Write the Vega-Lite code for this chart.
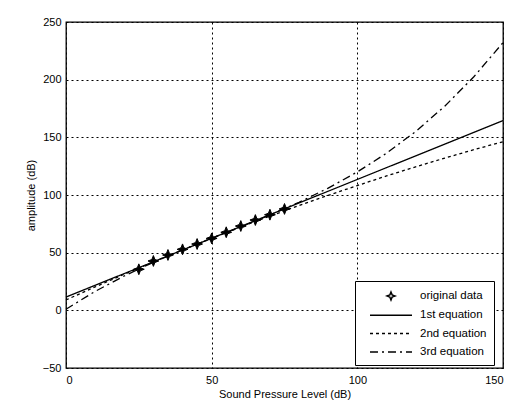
{
  "$schema": "https://vega.github.io/schema/vega-lite/v6.json",
  "width": 437,
  "height": 346,
  "autosize": "none",
  "padding": {"left": 66, "top": 22, "right": 27, "bottom": 35},
  "background": "white",
  "config": {
    "font": "Liberation Sans",
    "view": {"stroke": "black", "strokeWidth": 1.3},
    "axis": {
      "grid": true,
      "gridColor": "black",
      "gridDash": [2, 3],
      "gridOpacity": 1,
      "gridWidth": 1,
      "domain": false,
      "ticks": false,
      "labelColor": "black",
      "labelFontSize": 11,
      "titleColor": "black",
      "titleFontSize": 11,
      "titleFontWeight": "normal"
    },
    "legend": {
      "labelFontSize": 11.5,
      "labelColor": "black",
      "strokeColor": "black",
      "fillColor": "white",
      "padding": 7,
      "rowPadding": 4.3,
      "labelOffset": 21,
      "symbolSize": 196,
      "symbolOffset": 21
    }
  },
  "datasets": {
    "pts": [
      {"spl": 25, "amp": 35.6, "series": "original data"},
      {"spl": 30, "amp": 42.8, "series": "original data"},
      {"spl": 35, "amp": 48.0, "series": "original data"},
      {"spl": 40, "amp": 52.9, "series": "original data"},
      {"spl": 45, "amp": 57.5, "series": "original data"},
      {"spl": 50, "amp": 62.4, "series": "original data"},
      {"spl": 55, "amp": 67.7, "series": "original data"},
      {"spl": 60, "amp": 73.1, "series": "original data"},
      {"spl": 65, "amp": 78.3, "series": "original data"},
      {"spl": 70, "amp": 82.9, "series": "original data"},
      {"spl": 75, "amp": 87.9, "series": "original data"}
    ],
    "fits": [
      {"spl": 0, "amp": 11.5, "series": "1st equation"},
      {"spl": 10, "amp": 21.7, "series": "1st equation"},
      {"spl": 20, "amp": 31.9, "series": "1st equation"},
      {"spl": 30, "amp": 42.1, "series": "1st equation"},
      {"spl": 40, "amp": 52.3, "series": "1st equation"},
      {"spl": 50, "amp": 62.5, "series": "1st equation"},
      {"spl": 60, "amp": 72.7, "series": "1st equation"},
      {"spl": 70, "amp": 82.9, "series": "1st equation"},
      {"spl": 80, "amp": 93.1, "series": "1st equation"},
      {"spl": 90, "amp": 103.3, "series": "1st equation"},
      {"spl": 100, "amp": 113.5, "series": "1st equation"},
      {"spl": 110, "amp": 123.7, "series": "1st equation"},
      {"spl": 120, "amp": 133.9, "series": "1st equation"},
      {"spl": 130, "amp": 144.1, "series": "1st equation"},
      {"spl": 140, "amp": 154.3, "series": "1st equation"},
      {"spl": 150, "amp": 164.5, "series": "1st equation"},
      {"spl": 0, "amp": 9.0, "series": "2nd equation"},
      {"spl": 10, "amp": 20.3, "series": "2nd equation"},
      {"spl": 20, "amp": 31.3, "series": "2nd equation"},
      {"spl": 30, "amp": 42.0, "series": "2nd equation"},
      {"spl": 40, "amp": 52.4, "series": "2nd equation"},
      {"spl": 50, "amp": 62.5, "series": "2nd equation"},
      {"spl": 60, "amp": 72.3, "series": "2nd equation"},
      {"spl": 70, "amp": 81.7, "series": "2nd equation"},
      {"spl": 80, "amp": 90.9, "series": "2nd equation"},
      {"spl": 90, "amp": 99.7, "series": "2nd equation"},
      {"spl": 100, "amp": 108.2, "series": "2nd equation"},
      {"spl": 110, "amp": 116.5, "series": "2nd equation"},
      {"spl": 120, "amp": 124.4, "series": "2nd equation"},
      {"spl": 130, "amp": 132.0, "series": "2nd equation"},
      {"spl": 140, "amp": 139.3, "series": "2nd equation"},
      {"spl": 150, "amp": 146.2, "series": "2nd equation"},
      {"spl": 0, "amp": 1.0, "series": "3rd equation"},
      {"spl": 10, "amp": 16.4, "series": "3rd equation"},
      {"spl": 20, "amp": 29.8, "series": "3rd equation"},
      {"spl": 30, "amp": 41.7, "series": "3rd equation"},
      {"spl": 40, "amp": 52.4, "series": "3rd equation"},
      {"spl": 50, "amp": 62.5, "series": "3rd equation"},
      {"spl": 60, "amp": 72.5, "series": "3rd equation"},
      {"spl": 70, "amp": 82.7, "series": "3rd equation"},
      {"spl": 80, "amp": 93.7, "series": "3rd equation"},
      {"spl": 90, "amp": 106.0, "series": "3rd equation"},
      {"spl": 100, "amp": 120.0, "series": "3rd equation"},
      {"spl": 110, "amp": 136.2, "series": "3rd equation"},
      {"spl": 120, "amp": 155.0, "series": "3rd equation"},
      {"spl": 130, "amp": 177.0, "series": "3rd equation"},
      {"spl": 140, "amp": 202.5, "series": "3rd equation"},
      {"spl": 150, "amp": 232.1, "series": "3rd equation"}
    ]
  },
  "encoding": {
    "x": {
      "field": "spl", "type": "quantitative",
      "scale": {"domain": [0, 150], "nice": false},
      "axis": {"values": [0, 50, 100, 150], "title": "Sound Pressure Level (dB)", "labelPadding": 6, "titlePadding": 3}
    },
    "y": {
      "field": "amp", "type": "quantitative",
      "scale": {"domain": [-50, 250], "nice": false},
      "axis": {"values": [-50, 0, 50, 100, 150, 200, 250], "title": "amplitude (dB)", "labelPadding": 5, "titlePadding": 6}
    }
  },
  "layer": [
    {
      "data": {"name": "fits"},
      "mark": {"type": "line", "color": "black", "strokeWidth": 1.3},
      "encoding": {
        "detail": {"field": "series"},
        "strokeDash": {
          "field": "series", "type": "nominal",
          "scale": {
            "domain": ["original data", "1st equation", "2nd equation", "3rd equation"],
            "range": [[1, 0], [1, 0], [3, 3], [8, 4, 2, 4]]
          },
          "legend": {"title": null, "orient": "none", "legendX": 289, "legendY": 259,
            "encode": {"symbols": {"update": {"stroke": {"value": "black"}, "strokeWidth": {"value": 1.3}, "fill": {"value": "black"}, "fillOpacity": {"value": 1}, "opacity": {"value": 1}}}}}
        }
      }
    },
    {
      "data": {"name": "pts"},
      "mark": {"type": "point", "filled": true, "color": "black", "size": 361, "opacity": 1, "fillOpacity": 1, "stroke": "black", "strokeWidth": 1},
      "encoding": {
        "shape": {
          "field": "series", "type": "nominal",
          "scale": {
            "domain": ["original data", "1st equation", "2nd equation", "3rd equation"],
            "range": ["M0,-0.57L0.16,-0.16L0.57,0L0.16,0.16L0,0.57L-0.16,0.16L-0.57,0L-0.16,-0.16Z", "M-3,0L3,0", "M-3,0L3,0", "M-3,0L3,0"]
          },
          "legend": {"title": null, "orient": "none", "legendX": 289, "legendY": 259,
            "encode": {"symbols": {"update": {"stroke": {"value": "black"}, "strokeWidth": {"value": 1.3}, "fill": {"value": "black"}, "fillOpacity": {"value": 1}, "opacity": {"value": 1}}}}}
        }
      }
    }
  ]
}
